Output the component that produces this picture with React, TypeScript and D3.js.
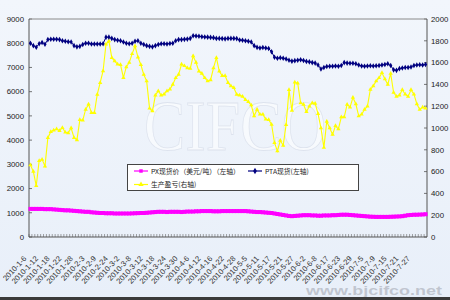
import React from "react";
import * as d3 from "d3";

const W = 450;
const H = 300;

const xTickLabels = ["2010-1-6","2010-1-12","2010-1-18","2010-1-22","2010-1-28","2010-2-3","2010-2-9","2010-2-24","2010-3-2","2010-3-8","2010-3-12","2010-3-18","2010-3-24","2010-3-30","2010-4-6","2010-4-12","2010-4-16","2010-4-22","2010-4-28","2010-5-5","2010-5-11","2010-5-17","2010-5-21","2010-5-27","2010-6-2","2010-6-8","2010-6-17","2010-6-23","2010-6-29","2010-7-5","2010-7-9","2010-7-15","2010-7-21","2010-7-27"];

// PX spot price (USD/t), left axis
const pxPrice = [
  1160,1160,1160,1160,1160,1150,1150,1150,1140,1130,
  1120,1110,1100,1100,1090,1080,1070,1060,1050,1040,
  1040,1020,1010,1000,990,990,980,980,980,970,
  970,970,970,970,970,975,980,985,990,990,
  1000,1010,1020,1030,1040,1040,1040,1030,1040,1040,
  1040,1040,1030,1040,1050,1050,1050,1060,1060,1070,
  1070,1070,1070,1060,1060,1060,1070,1070,1070,1070,
  1070,1070,1070,1070,1070,1060,1050,1040,1030,1030,
  1020,1010,1000,990,970,950,930,910,890,870,
  860,870,880,890,900,900,900,890,890,880,
  880,890,890,890,900,900,910,920,920,920,
  910,900,890,880,870,860,850,840,835,830,
  830,830,830,830,835,840,845,850,860,880,
  900,910,920,920,925,930,940
];

// PTA spot price, left axis
const ptaPrice = [
  8000,7900,7835,7980,8030,7960,8150,8165,8165,8165,
  8150,8100,8080,8060,8050,7900,7850,7870,7950,8000,
  8000,7970,7970,7970,7970,7980,8250,8250,8200,8150,
  8120,8100,8050,8000,7980,8000,8080,8100,8000,7950,
  7900,7870,7850,7900,7950,7980,7980,7970,7990,8000,
  8100,8150,8150,8160,8170,8200,8310,8300,8290,8270,
  8260,8250,8240,8230,8200,8200,8190,8180,8200,8200,
  8200,8190,8130,8120,8100,8080,8050,7900,7830,7800,
  7820,7800,7780,7650,7420,7380,7400,7380,7350,7300,
  7260,7280,7300,7320,7290,7250,7230,7200,7180,7100,
  6935,7000,7040,7050,7050,7060,7050,7080,7200,7180,
  7170,7170,7150,7100,7060,7050,7060,7070,7060,7070,
  7080,7100,7120,7150,7080,6900,6880,6950,6980,7000,
  7000,7020,7080,7100,7110,7100,7120
];

// Production profit/loss, right axis
const profit = [
  660,600,470,700,712,650,911,966,980,990,
  975,1003,960,955,1000,911,890,1075,1070,1170,
  1217,1140,1140,1308,1416,1523,1768,1798,1645,1614,
  1584,1580,1462,1560,1600,1680,1752,1650,1580,1490,
  1430,1180,1155,1300,1340,1300,1310,1340,1355,1400,
  1460,1490,1584,1570,1550,1545,1660,1600,1520,1500,
  1460,1430,1440,1550,1645,1520,1480,1480,1416,1385,
  1370,1308,1300,1290,1260,1240,1210,1110,1170,1125,
  1125,1080,1075,1033,865,788,885,840,1030,1350,
  1160,1420,1410,1230,1215,1150,1200,1230,1225,1130,
  1000,820,1060,1000,940,1020,990,1100,1100,1216,
  1190,1280,1220,1110,1125,1170,1200,1354,1385,1430,
  1460,1506,1450,1400,1500,1325,1290,1300,1350,1310,
  1290,1350,1310,1220,1170,1190,1180
];

const leftTicks = [0,1000,2000,3000,4000,5000,6000,7000,8000,9000];
const rightTicks = [0,200,400,600,800,1000,1200,1400,1600,1800,2000];

const legendLabels = ["PX现货价（美元/吨）（左轴）", "PTA现货(左轴)", "生产盈亏(右轴)"];

const PL = 29, PR = 427, PT = 19, PB = 237;

export default function App() {
  const idx = d3.range(pxPrice.length);
  const x = d3.scaleBand<number>().domain(idx).range([PL, PR]).paddingInner(0).paddingOuter(0);
  const cx = (i: number) => (x(i) as number) + x.bandwidth() / 2;
  const yL = d3.scaleLinear().domain([0, 9000]).range([PB, PT]);
  const yR = d3.scaleLinear().domain([0, 2000]).range([PB, PT]);

  const lineL = d3.line<number>().x((_, i) => cx(i)).y((d) => yL(d));
  const lineR = d3.line<number>().x((_, i) => cx(i)).y((d) => yR(d));

  const sq = d3.symbol().type(d3.symbolSquare).size(16)() as string;
  const dia = d3.symbol().type(d3.symbolDiamond).size(9)() as string;
  const tri = d3.symbol().type(d3.symbolTriangle).size(8)() as string;
  const sqL = d3.symbol().type(d3.symbolSquare).size(12)() as string;
  const diaL = d3.symbol().type(d3.symbolDiamond).size(12)() as string;
  const triL = d3.symbol().type(d3.symbolTriangle).size(12)() as string;

  const font = "'Liberation Sans', Arial, sans-serif";
  const cjk = "'Noto Sans CJK SC', 'Liberation Sans', sans-serif";

  return (
    <div style={{ position: "fixed", left: 0, top: 0 }}>
      <svg width={W} height={H} style={{ display: "block" }}>
        <defs>
          <linearGradient id="bg" x1="0" y1="0" x2="0" y2="1">
            <stop offset="0" stopColor="#F2F6FC" />
            <stop offset="1" stopColor="#E8EFF9" />
          </linearGradient>
        </defs>
        <rect x={0} y={0} width={W} height={H} fill="url(#bg)" />
        {/* watermark */}
        <text x={235} y={150} textAnchor="middle" fontFamily="'Liberation Serif', serif" fontSize={72}
          textLength={182} lengthAdjust="spacingAndGlyphs"
          fill="#ffffff" fillOpacity={0.55} stroke="#dde3ee" strokeWidth={0.8}>CIFCO</text>

        {/* x ticks */}
        {idx.map((i) => (
          <line key={"xt" + i} x1={x(i) as number} x2={x(i) as number} y1={PB - 3} y2={PB} stroke="#666" strokeWidth={0.6} />
        ))}
        {/* left ticks */}
        {leftTicks.map((t) => (
          <g key={"lt" + t}>
            <line x1={PL} x2={PL + 3} y1={yL(t)} y2={yL(t)} stroke="#555" strokeWidth={0.8} />
            <text x={24} y={yL(t) + 2.8} textAnchor="end" fontFamily={font} fontSize={7.8} fill="#222">{t}</text>
          </g>
        ))}
        {rightTicks.map((t) => (
          <g key={"rt" + t}>
            <line x1={PR - 3} x2={PR} y1={yR(t)} y2={yR(t)} stroke="#555" strokeWidth={0.8} />
            <text x={431} y={yR(t) + 2.8} textAnchor="start" fontFamily={font} fontSize={7.8} fill="#222">{t}</text>
          </g>
        ))}
        {/* frame */}
        <line x1={PL} x2={PR} y1={PT} y2={PT} stroke="#8a8a8a" strokeWidth={1} />
        <line x1={PL} x2={PL} y1={PT} y2={PB} stroke="#555" strokeWidth={1} />
        <line x1={PR} x2={PR} y1={PT} y2={PB} stroke="#555" strokeWidth={1} />
        <line x1={PL} x2={PR} y1={PB} y2={PB} stroke="#555" strokeWidth={1} />

        {/* x labels */}
        {xTickLabels.map((lab, k) => {
          const i = k * 4;
          const tx = cx(i) - 3.5;
          const ty = 259;
          return (
            <text key={"xl" + k} x={tx} y={ty} textAnchor="end" fontFamily={font} fontSize={7.6} fill="#333"
              transform={`rotate(-47 ${tx} ${ty})`}>{lab}</text>
          );
        })}

        {/* profit (right axis) */}
        <path d={lineR(profit) as string} fill="none" stroke="#FFFF00" strokeWidth={1.1} />
        {profit.map((v, i) => (
          <path key={"p" + i} d={tri} transform={`translate(${cx(i)},${yR(v)})`} fill="#FFFF00" />
        ))}
        {/* PTA */}
        <path d={lineL(ptaPrice) as string} fill="none" stroke="#000080" strokeWidth={1} />
        {ptaPrice.map((v, i) => (
          <path key={"a" + i} d={dia} transform={`translate(${cx(i)},${yL(v)})`} fill="#000080" />
        ))}
        {/* PX */}
        <path d={lineL(pxPrice) as string} fill="none" stroke="#FF00FF" strokeWidth={3} />
        {pxPrice.map((v, i) => (
          <path key={"x" + i} d={sq} transform={`translate(${cx(i)},${yL(v)})`} fill="#FF00FF" />
        ))}

        {/* legend */}
        <rect x={127.5} y={164.5} width={231} height={26} fill="#ffffff" stroke="#444" strokeWidth={1} />
        <line x1={134} x2={148} y1={171} y2={171} stroke="#FF00FF" strokeWidth={1.2} />
        <path d={sqL} transform="translate(141,171)" fill="#FF00FF" />
        <text x={151} y={173.5} fontFamily={cjk} fontSize={6.8} fill="#222">{legendLabels[0]}</text>
        <line x1={248} x2={262} y1={171} y2={171} stroke="#000080" strokeWidth={1.2} />
        <path d={diaL} transform="translate(255,171)" fill="#000080" />
        <text x={265} y={173.5} fontFamily={cjk} fontSize={6.8} fill="#222">{legendLabels[1]}</text>
        <line x1={134} x2={148} y1={184.5} y2={184.5} stroke="#FFFF00" strokeWidth={1.2} />
        <path d={triL} transform="translate(141,184.5)" fill="#FFFF00" />
        <text x={151} y={187} fontFamily={cjk} fontSize={6.8} fill="#222">{legendLabels[2]}</text>

        {/* site watermark */}
        <text x={442} y={295} textAnchor="end" fontFamily={font} fontWeight="bold" fontSize={13}
          textLength={136} lengthAdjust="spacingAndGlyphs" fill="#b9bec8" fillOpacity={0.85}>www.bjcifco.net</text>
        <rect x={0} y={297} width={W} height={3} fill="#3a3a3a" />
      </svg>
    </div>
  );
}
